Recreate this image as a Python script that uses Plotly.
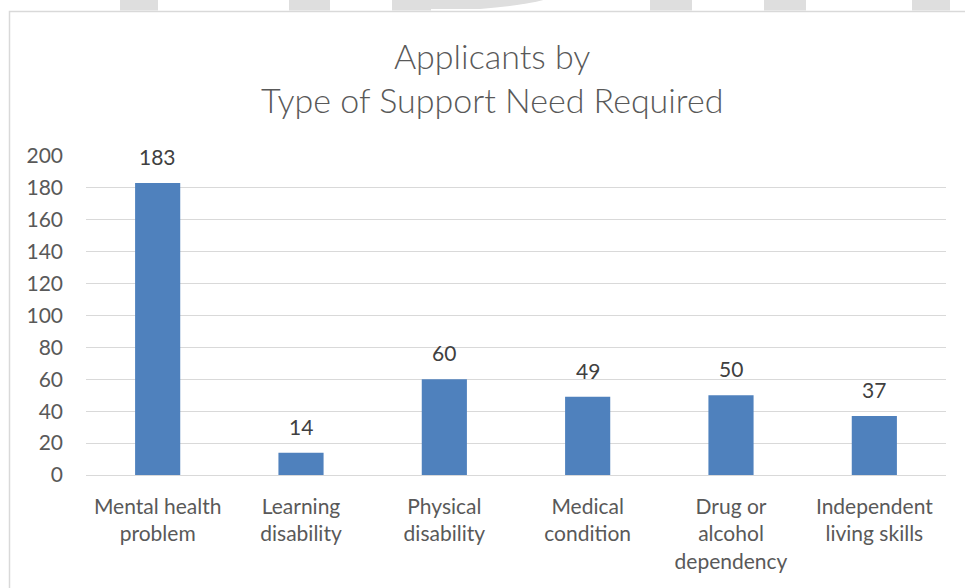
import plotly.graph_objects as go

categories = ["Mental health<br>problem", "Learning<br>disability", "Physical<br>disability",
              "Medical<br>condition", "Drug or<br>alcohol<br>dependency", "Independent<br>living skills"]
values = [183, 14, 60, 49, 50, 37]
y_ticks = [0, 20, 40, 60, 80, 100, 120, 140, 160, 180, 200]

W, H = 965, 588
L, R, T, B = 86, 946, 156, 475

def px(x):
    return (x - L) / (R - L)

def py(y):
    return (B - y) / (B - T)

fig = go.Figure(go.Bar(
    x=categories, y=values,
    marker=dict(color="#4f81bd", line=dict(width=0)),
    width=0.315,
    cliponaxis=False,
    hoverinfo="x+y",
))

# data labels
for c, v in zip(categories, values):
    fig.add_annotation(x=c, y=v, text=str(v), showarrow=False, yanchor="bottom", yshift=12,
                       font=dict(family="Lato", size=21, color="#404040"))

shapes = []
# faint watermark fragments at the very top
for x0, x1 in [(120, 158), (289, 330), (392, 431), (650, 692), (764, 806), (912, 950)]:
    shapes.append(dict(type="rect", xref="paper", yref="paper", x0=px(x0), x1=px(x1),
                       y0=py(10.5), y1=py(-2), fillcolor="#dedede", line=dict(width=0), layer="below"))
shapes.append(dict(type="path", xref="paper", yref="paper",
                   path=f"M {px(431)},{py(9)} L {px(480)},{py(9)} Q {px(530)},{py(5)} {px(550)},{py(-2)} L {px(431)},{py(-2)} Z",
                   fillcolor="#dedede", line=dict(width=0), layer="below"))
# chart border
shapes.append(dict(type="rect", xref="paper", yref="paper", x0=px(9.5), x1=px(975),
                   y0=py(600), y1=py(11.5), line=dict(color="#d9d9d9", width=1.5),
                   fillcolor="rgba(0,0,0,0)", layer="below"))

fig.update_layout(
    width=W, height=H,
    margin=dict(l=L, r=W - R, t=T, b=H - B, pad=0),
    paper_bgcolor="white", plot_bgcolor="white",
    title=dict(text="Applicants by<br>Type of Support Need Required",
               x=0.51, xanchor="center", y=1 - 69 / H, yanchor="top", yref="container",
               font=dict(family="Lato", size=34, color="#595959", weight=300)),
    font=dict(family="Lato", size=21, color="#595959"),
    showlegend=False,
    bargap=0.685,
    shapes=shapes,
    xaxis=dict(showgrid=False, showline=False, ticks="", ticklabelstandoff=17,
               tickfont=dict(family="Lato", size=21, color="#595959"), fixedrange=True),
    yaxis=dict(range=[0, 200], tickvals=y_ticks, showgrid=True, gridcolor="#d9d9d9", gridwidth=1,
               zeroline=True, zerolinecolor="#d9d9d9", zerolinewidth=1, showline=False,
               ticks="", ticklabelstandoff=22,
               tickfont=dict(family="Lato", size=21, color="#595959"), fixedrange=True),
)

fig.write_html("out.html", config={"displayModeBar": False},
               post_script="document.body.style.margin='0';document.body.style.overflow='hidden';")
